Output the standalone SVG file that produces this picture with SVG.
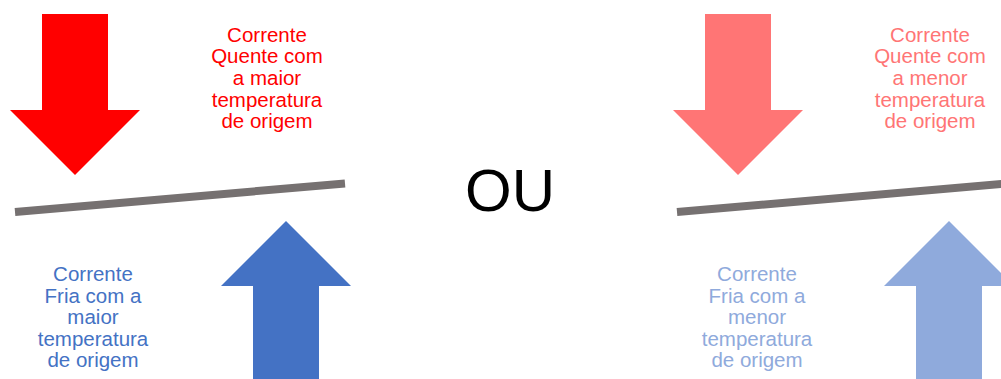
<svg xmlns="http://www.w3.org/2000/svg" width="1001" height="379" viewBox="0 0 1001 379">
  <style>
    .lbl { font-family: "Liberation Sans", Arial, sans-serif; font-size: 20.5px; text-anchor: middle; }
    .hot { fill: #FF0000; }
    .cold { fill: #4472C4; }
    .hot-lt { fill: #FF7575; }
    .cold-lt { fill: #8FAADC; }
    .wall { stroke: #767171; stroke-width: 8; fill: none; }
  </style>
  <defs>
    <!-- downward block arrow, tip at origin -->
    <polygon id="arrow-down" points="-33,-161 33,-161 33,-65 65,-65 0,0 -65,-65 -33,-65"/>
    <!-- upward block arrow, tip at origin -->
    <polygon id="arrow-up" points="0,0 65,65 33,65 33,170 -33,170 -33,65 -65,65"/>
  </defs>

  <rect width="1001" height="379" fill="#FFFFFF"/>

  <!-- left case: hot stream with the higher inlet temperature -->
  <g id="hot-max">
    <use href="#arrow-down" x="75" y="175" class="hot"/>
    <text class="lbl hot"><tspan x="267" y="41.7">Corrente</tspan><tspan x="267" y="63.3">Quente com</tspan><tspan x="267" y="84.9">a maior</tspan><tspan x="267" y="106.5">temperatura</tspan><tspan x="267" y="128.1">de origem</tspan></text>
  </g>
  <g id="wall-left">
    <line class="wall" x1="15" y1="212" x2="345" y2="183.5"/>
  </g>
  <g id="cold-max">
    <use href="#arrow-up" x="286" y="221" class="cold"/>
    <text class="lbl cold"><tspan x="93" y="281">Corrente</tspan><tspan x="93" y="302.6">Fria com a</tspan><tspan x="93" y="324.2">maior</tspan><tspan x="93" y="345.8">temperatura</tspan><tspan x="93" y="367.4">de origem</tspan></text>
  </g>

  <g id="or">
    <text x="510" y="211" font-family="'Liberation Sans', Arial, sans-serif" font-size="60" text-anchor="middle" fill="#000000">OU</text>
  </g>

  <!-- right case: hot stream with the lower inlet temperature -->
  <g id="hot-min">
    <use href="#arrow-down" x="738" y="175" class="hot-lt"/>
    <text class="lbl hot-lt"><tspan x="930" y="41.7">Corrente</tspan><tspan x="930" y="63.3">Quente com</tspan><tspan x="930" y="84.9">a menor</tspan><tspan x="930" y="106.5">temperatura</tspan><tspan x="930" y="128.1">de origem</tspan></text>
  </g>
  <g id="wall-right">
    <line class="wall" x1="677" y1="212" x2="1007" y2="183.5"/>
  </g>
  <g id="cold-min">
    <use href="#arrow-up" x="949" y="221" class="cold-lt"/>
    <text class="lbl cold-lt"><tspan x="757" y="281">Corrente</tspan><tspan x="757" y="302.6">Fria com a</tspan><tspan x="757" y="324.2">menor</tspan><tspan x="757" y="345.8">temperatura</tspan><tspan x="757" y="367.4">de origem</tspan></text>
  </g>
</svg>
